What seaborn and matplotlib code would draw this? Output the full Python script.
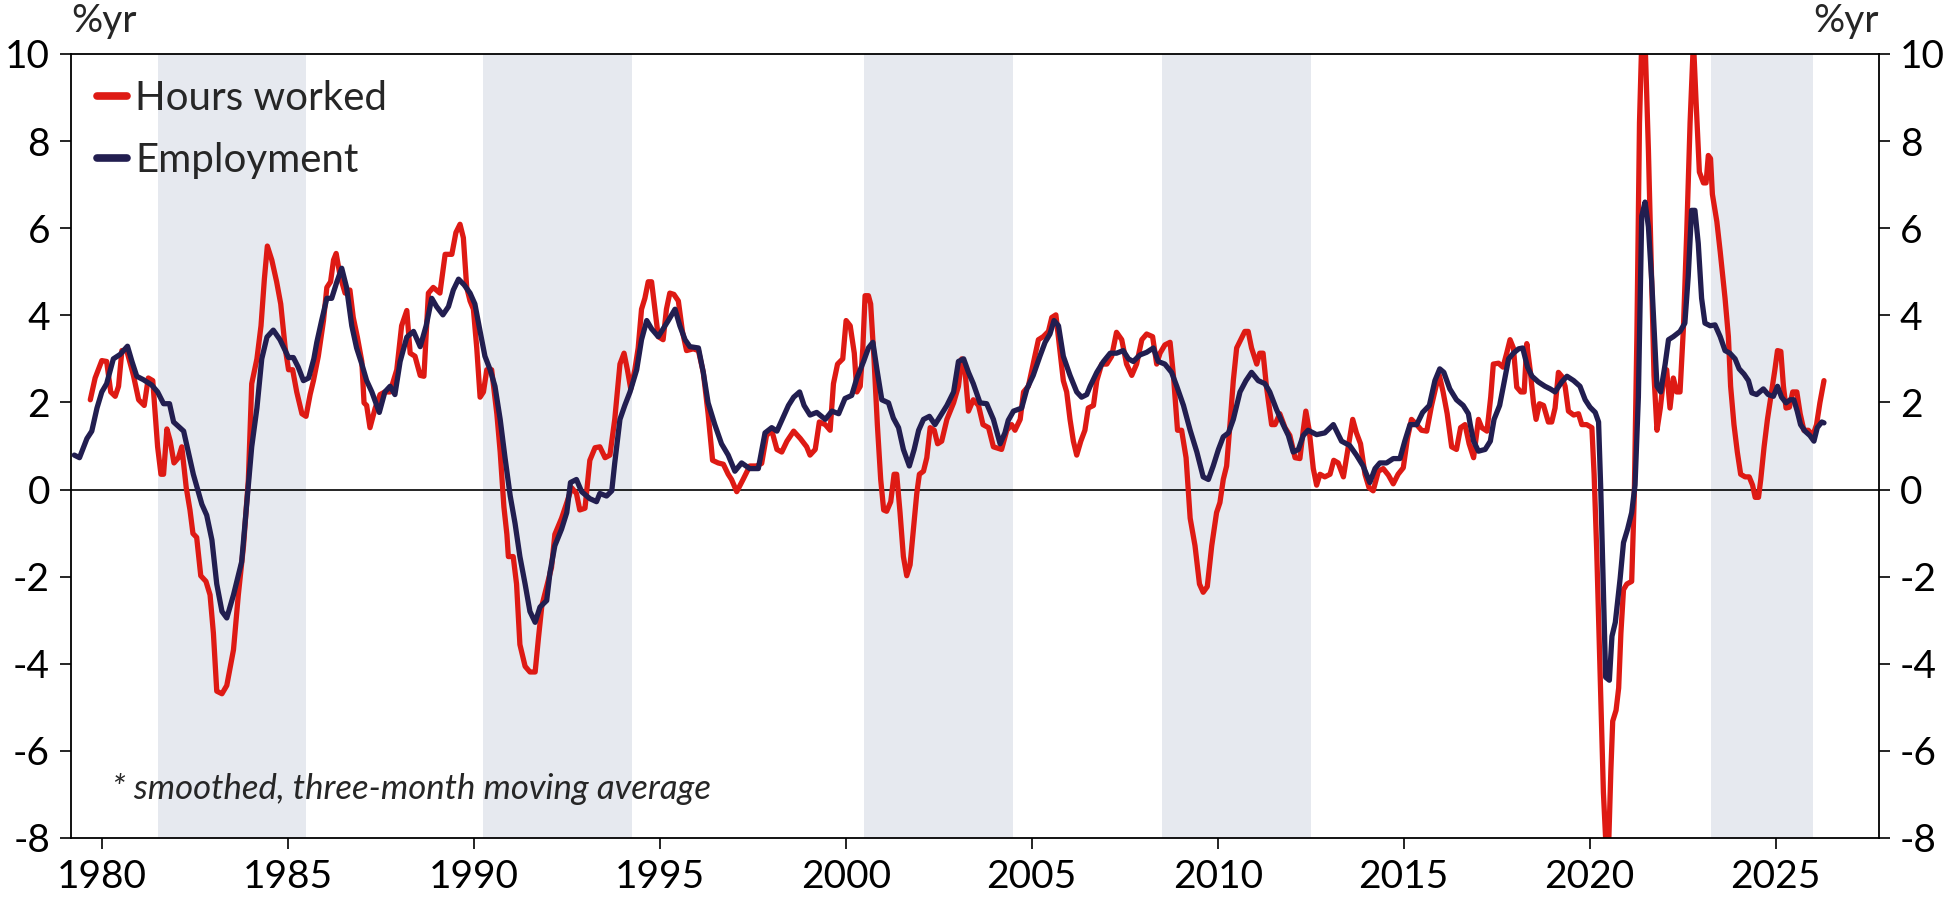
import numpy as np
import pandas as pd
import matplotlib
matplotlib.use("Agg")
import matplotlib.pyplot as plt
import seaborn as sns

# ── Données (années décimales, %/an) ─────────────────────────────────────────
hours_year = [
    1979.69, 1979.82, 1980.00, 1980.13, 1980.24, 1980.36, 1980.45, 1980.54, 1980.67, 1980.85,
    1980.99, 1981.14, 1981.25, 1981.37, 1981.50, 1981.59, 1981.66, 1981.75, 1981.84, 1981.94,
    1982.06, 1982.15, 1982.27, 1982.37, 1982.45, 1982.55, 1982.66, 1982.80, 1982.91, 1983.00,
    1983.09, 1983.23, 1983.36, 1983.54, 1983.67, 1983.81, 1983.94, 1984.03, 1984.17, 1984.28,
    1984.37, 1984.45, 1984.57, 1984.70, 1984.81, 1984.93, 1985.02, 1985.13, 1985.24, 1985.38,
    1985.49, 1985.60, 1985.69, 1985.82, 1985.96, 1986.05, 1986.15, 1986.23, 1986.30, 1986.41,
    1986.54, 1986.67, 1986.76, 1986.87, 1986.99, 1987.05, 1987.12, 1987.21, 1987.35, 1987.48,
    1987.61, 1987.75, 1987.93, 1988.06, 1988.20, 1988.29, 1988.42, 1988.56, 1988.66, 1988.78,
    1988.91, 1989.09, 1989.23, 1989.41, 1989.52, 1989.63, 1989.72, 1989.81, 1989.90, 1989.99,
    1990.08, 1990.17, 1990.26, 1990.35, 1990.48, 1990.62, 1990.71, 1990.81, 1990.89, 1990.93,
    1991.06, 1991.15, 1991.24, 1991.38, 1991.51, 1991.65, 1991.74, 1991.83, 1991.96, 1992.09,
    1992.18, 1992.36, 1992.51, 1992.63, 1992.76, 1992.85, 1992.99, 1993.12, 1993.26, 1993.39,
    1993.53, 1993.66, 1993.79, 1993.93, 1994.04, 1994.13, 1994.22, 1994.33, 1994.42, 1994.51,
    1994.60, 1994.69, 1994.78, 1994.87, 1994.96, 1995.09, 1995.18, 1995.27, 1995.38, 1995.50,
    1995.61, 1995.72, 1995.90, 1996.04, 1996.17, 1996.30, 1996.42, 1996.57, 1996.71, 1996.84,
    1996.93, 1997.07, 1997.24, 1997.42, 1997.60, 1997.74, 1997.87, 1998.01, 1998.15, 1998.28,
    1998.42, 1998.60, 1998.78, 1998.95, 1999.04, 1999.18, 1999.29, 1999.45, 1999.58, 1999.67,
    1999.78, 1999.92, 2000.01, 2000.12, 2000.23, 2000.30, 2000.39, 2000.46, 2000.52, 2000.61,
    2000.67, 2000.76, 2000.85, 2000.94, 2001.02, 2001.10, 2001.21, 2001.30, 2001.37, 2001.46,
    2001.55, 2001.64, 2001.73, 2001.82, 2001.91, 2001.98, 2002.09, 2002.18, 2002.27, 2002.38,
    2002.47, 2002.58, 2002.72, 2002.90, 2003.03, 2003.12, 2003.21, 2003.30, 2003.43, 2003.57,
    2003.69, 2003.84, 2003.97, 2004.19, 2004.33, 2004.46, 2004.55, 2004.69, 2004.78, 2004.91,
    2005.04, 2005.18, 2005.31, 2005.45, 2005.54, 2005.65, 2005.76, 2005.85, 2005.94, 2006.03,
    2006.12, 2006.21, 2006.32, 2006.43, 2006.52, 2006.66, 2006.75, 2006.88, 2007.02, 2007.15,
    2007.28, 2007.42, 2007.55, 2007.69, 2007.82, 2007.96, 2008.09, 2008.25, 2008.36, 2008.45,
    2008.58, 2008.72, 2008.81, 2008.92, 2009.03, 2009.15, 2009.26, 2009.39, 2009.51, 2009.61,
    2009.72, 2009.84, 2009.97, 2010.06, 2010.15, 2010.24, 2010.33, 2010.42, 2010.51, 2010.62,
    2010.73, 2010.82, 2010.91, 2011.05, 2011.13, 2011.22, 2011.31, 2011.45, 2011.54, 2011.67,
    2011.81, 2011.94, 2012.08, 2012.21, 2012.30, 2012.37, 2012.46, 2012.57, 2012.66, 2012.75,
    2012.88, 2013.02, 2013.12, 2013.24, 2013.38, 2013.51, 2013.63, 2013.73, 2013.84, 2013.96,
    2014.07, 2014.18, 2014.32, 2014.45, 2014.59, 2014.72, 2014.85, 2014.99, 2015.10, 2015.21,
    2015.35, 2015.48, 2015.62, 2015.75, 2015.87, 2015.96, 2016.06, 2016.17, 2016.29, 2016.42,
    2016.53, 2016.65, 2016.76, 2016.88, 2017.01, 2017.10, 2017.24, 2017.34, 2017.41, 2017.55,
    2017.67, 2017.77, 2017.86, 2017.95, 2018.04, 2018.15, 2018.24, 2018.31, 2018.40, 2018.49,
    2018.56, 2018.65, 2018.76, 2018.89, 2018.98, 2019.07, 2019.16, 2019.25, 2019.34, 2019.43,
    2019.57, 2019.70, 2019.79, 2019.92, 2020.06, 2020.12, 2020.19, 2020.28, 2020.37, 2020.44,
    2020.51, 2020.57, 2020.62, 2020.71, 2020.78, 2020.84, 2020.91, 2021.00, 2021.13, 2021.20,
    2021.27, 2021.34, 2021.40, 2021.49, 2021.58, 2021.67, 2021.73, 2021.81, 2021.90, 2021.99,
    2022.07, 2022.16, 2022.25, 2022.34, 2022.43, 2022.52, 2022.61, 2022.70, 2022.79, 2022.86,
    2022.95, 2023.06, 2023.13, 2023.19, 2023.25, 2023.30, 2023.42, 2023.51, 2023.64, 2023.73,
    2023.79, 2023.88, 2023.97, 2024.06, 2024.18, 2024.29, 2024.38, 2024.45, 2024.54, 2024.60,
    2024.69, 2024.78, 2024.89, 2024.98, 2025.05, 2025.14, 2025.21, 2025.28, 2025.37, 2025.46,
    2025.57, 2025.66, 2025.76, 2025.88, 2026.00, 2026.10, 2026.19, 2026.30,
]
hours_val = [
    2.06, 2.56, 2.96, 2.94, 2.24, 2.14, 2.37, 3.19, 3.19, 2.62,
    2.06, 1.93, 2.56, 2.50, 0.98, 0.35, 0.35, 1.39, 1.11, 0.61,
    0.73, 0.98, 0.04, -0.47, -1.01, -1.10, -1.98, -2.11, -2.42, -3.30,
    -4.63, -4.69, -4.50, -3.68, -2.42, -1.29, 0.23, 2.43, 3.00, 3.76,
    4.83, 5.59, 5.27, 4.77, 4.26, 3.25, 2.75, 2.75, 2.24, 1.74,
    1.68, 2.18, 2.50, 3.06, 3.88, 4.64, 4.77, 5.27, 5.42, 4.89,
    4.51, 4.58, 3.95, 3.50, 2.94, 1.99, 1.93, 1.42, 1.87, 2.18,
    2.24, 2.24, 2.75, 3.76, 4.11, 3.13, 3.06, 2.62, 2.60, 4.51,
    4.64, 4.51, 5.40, 5.40, 5.90, 6.09, 5.78, 4.64, 4.33, 4.14,
    3.25, 2.12, 2.24, 2.75, 2.75, 1.74, 0.86, -0.40, -1.03, -1.54,
    -1.54, -2.17, -3.56, -4.06, -4.19, -4.19, -3.40, -2.67, -2.23, -1.79,
    -1.03, -0.66, -0.28, 0.04, -0.09, -0.47, -0.43, 0.67, 0.96, 0.98,
    0.73, 0.79, 1.61, 2.88, 3.13, 2.75, 2.31, 2.75, 3.25, 4.14,
    4.39, 4.77, 4.77, 4.14, 3.51, 3.44, 4.14, 4.51, 4.48, 4.33,
    3.63, 3.19, 3.23, 3.19, 2.69, 1.74, 0.67, 0.61, 0.58, 0.35,
    0.23, -0.05, 0.23, 0.54, 0.54, 0.60, 1.24, 1.36, 0.92, 0.86,
    1.11, 1.34, 1.17, 0.98, 0.79, 0.92, 1.55, 1.49, 1.36, 2.43,
    2.88, 3.00, 3.88, 3.76, 3.13, 2.24, 2.37, 3.25, 4.45, 4.45,
    4.26, 3.00, 1.49, 0.23, -0.47, -0.50, -0.28, 0.35, 0.35, -0.53,
    -1.54, -1.98, -1.73, -0.91, -0.09, 0.35, 0.42, 0.73, 1.42, 1.36,
    1.05, 1.11, 1.61, 1.99, 2.37, 3.00, 2.69, 1.80, 2.06, 1.93,
    1.49, 1.42, 0.98, 0.92, 1.36, 1.49, 1.36, 1.61, 2.24, 2.37,
    2.88, 3.44, 3.51, 3.63, 3.95, 4.01, 3.19, 2.50, 2.24, 1.61,
    1.11, 0.79, 1.11, 1.36, 1.87, 1.93, 2.50, 2.88, 2.88, 3.06,
    3.61, 3.44, 2.88, 2.62, 2.88, 3.44, 3.57, 3.51, 2.88, 3.13,
    3.32, 3.38, 2.62, 1.36, 1.36, 0.73, -0.66, -1.29, -2.17, -2.36,
    -2.23, -1.29, -0.53, -0.30, 0.23, 0.54, 1.49, 2.50, 3.25, 3.44,
    3.63, 3.63, 3.25, 2.88, 3.13, 3.13, 2.37, 1.49, 1.49, 1.74,
    1.42, 1.24, 0.73, 0.71, 1.36, 1.80, 1.36, 0.48, 0.10, 0.35,
    0.29, 0.35, 0.67, 0.61, 0.29, 0.98, 1.61, 1.30, 1.05, 0.35,
    0.04, -0.03, 0.42, 0.48, 0.33, 0.13, 0.35, 0.50, 1.17, 1.61,
    1.49, 1.36, 1.34, 1.93, 2.37, 2.62, 2.24, 1.74, 0.98, 0.92,
    1.42, 1.49, 1.05, 0.73, 1.61, 1.42, 1.34, 2.12, 2.88, 2.90,
    2.81, 3.13, 3.44, 3.25, 2.35, 2.24, 2.24, 3.35, 2.75, 1.99,
    1.61, 1.97, 1.93, 1.55, 1.55, 1.87, 2.69, 2.60, 2.37, 1.80,
    1.71, 1.74, 1.49, 1.49, 1.42, 0.35, -1.41, -4.19, -6.96, -8.20,
    -8.20, -6.46, -5.32, -5.07, -4.56, -3.30, -2.30, -2.17, -2.11, -0.15,
    3.51, 8.42, 10.30, 10.30, 7.79, 4.64, 2.62, 1.36, 1.87, 2.56,
    2.75, 1.87, 2.56, 2.24, 2.24, 3.69, 5.90, 8.42, 10.30, 8.93,
    7.29, 7.04, 7.04, 7.67, 7.60, 6.78, 6.15, 5.46, 4.39, 3.51,
    2.37, 1.49, 0.86, 0.35, 0.29, 0.29, 0.10, -0.18, -0.18, 0.23,
    0.98, 1.61, 2.24, 2.75, 3.19, 3.17, 2.37, 1.87, 1.89, 2.24,
    2.24, 1.74, 1.36, 1.36, 1.24, 1.49, 1.99, 2.50,
]

emp_year = [
    1979.26, 1979.40, 1979.60, 1979.73, 1979.87, 1980.00, 1980.13, 1980.31, 1980.49, 1980.69,
    1980.81, 1980.94, 1981.12, 1981.34, 1981.50, 1981.66, 1981.82, 1981.93, 1982.20, 1982.46,
    1982.69, 1982.82, 1982.96, 1983.09, 1983.23, 1983.36, 1983.54, 1983.76, 1983.90, 1984.03,
    1984.17, 1984.30, 1984.44, 1984.61, 1984.79, 1985.02, 1985.15, 1985.28, 1985.42, 1985.56,
    1985.70, 1985.78, 1985.91, 1986.05, 1986.18, 1986.32, 1986.45, 1986.58, 1986.72, 1986.85,
    1986.99, 1987.12, 1987.26, 1987.46, 1987.61, 1987.75, 1987.88, 1988.02, 1988.20, 1988.38,
    1988.56, 1988.72, 1988.87, 1989.00, 1989.17, 1989.32, 1989.45, 1989.59, 1989.74, 1989.90,
    1990.03, 1990.17, 1990.30, 1990.44, 1990.57, 1990.71, 1990.84, 1990.98, 1991.11, 1991.24,
    1991.38, 1991.51, 1991.65, 1991.78, 1991.96, 1992.05, 1992.18, 1992.36, 1992.50, 1992.60,
    1992.76, 1992.90, 1993.12, 1993.30, 1993.39, 1993.57, 1993.71, 1993.79, 1993.93, 1994.06,
    1994.20, 1994.38, 1994.51, 1994.65, 1994.78, 1994.96, 1995.09, 1995.23, 1995.41, 1995.54,
    1995.68, 1995.81, 1996.04, 1996.17, 1996.30, 1996.48, 1996.66, 1996.84, 1997.02, 1997.20,
    1997.42, 1997.65, 1997.83, 1998.01, 1998.15, 1998.33, 1998.46, 1998.60, 1998.76, 1998.88,
    1999.04, 1999.22, 1999.45, 1999.63, 1999.81, 1999.98, 2000.16, 2000.30, 2000.48, 2000.61,
    2000.73, 2000.84, 2000.97, 2001.15, 2001.28, 2001.42, 2001.55, 2001.71, 2001.84, 2001.96,
    2002.09, 2002.25, 2002.40, 2002.58, 2002.72, 2002.90, 2003.03, 2003.17, 2003.30, 2003.43,
    2003.61, 2003.79, 2003.97, 2004.15, 2004.28, 2004.37, 2004.51, 2004.73, 2004.87, 2005.04,
    2005.22, 2005.36, 2005.49, 2005.60, 2005.72, 2005.85, 2006.03, 2006.21, 2006.34, 2006.48,
    2006.57, 2006.75, 2006.93, 2007.11, 2007.28, 2007.46, 2007.60, 2007.73, 2007.91, 2008.09,
    2008.27, 2008.40, 2008.58, 2008.76, 2008.90, 2009.08, 2009.26, 2009.44, 2009.61, 2009.75,
    2009.88, 2010.02, 2010.15, 2010.29, 2010.42, 2010.60, 2010.76, 2010.91, 2011.09, 2011.27,
    2011.40, 2011.58, 2011.76, 2011.90, 2012.03, 2012.17, 2012.30, 2012.43, 2012.66, 2012.88,
    2013.11, 2013.33, 2013.55, 2013.73, 2013.91, 2014.09, 2014.23, 2014.36, 2014.54, 2014.72,
    2014.90, 2015.03, 2015.17, 2015.35, 2015.51, 2015.69, 2015.84, 2015.97, 2016.08, 2016.24,
    2016.42, 2016.60, 2016.74, 2016.79, 2016.88, 2017.01, 2017.19, 2017.33, 2017.43, 2017.58,
    2017.68, 2017.82, 2017.95, 2018.09, 2018.20, 2018.33, 2018.45, 2018.62, 2018.80, 2018.94,
    2019.07, 2019.25, 2019.39, 2019.57, 2019.74, 2019.88, 2020.01, 2020.15, 2020.24, 2020.30,
    2020.37, 2020.43, 2020.53, 2020.60, 2020.69, 2020.82, 2020.91, 2021.02, 2021.13, 2021.22,
    2021.31, 2021.40, 2021.49, 2021.58, 2021.67, 2021.81, 2021.91, 2022.03, 2022.12, 2022.25,
    2022.43, 2022.56, 2022.65, 2022.74, 2022.83, 2022.92, 2023.01, 2023.10, 2023.24, 2023.37,
    2023.51, 2023.64, 2023.77, 2023.91, 2024.02, 2024.15, 2024.27, 2024.36, 2024.49, 2024.67,
    2024.80, 2024.94, 2025.05, 2025.16, 2025.28, 2025.39, 2025.49, 2025.58, 2025.67, 2025.79,
    2025.92, 2026.03, 2026.12, 2026.24, 2026.30,
]
emp_val = [
    0.79, 0.73, 1.17, 1.34, 1.87, 2.24, 2.43, 3.00, 3.10, 3.29,
    2.94, 2.60, 2.52, 2.40, 2.24, 1.97, 1.97, 1.55, 1.34, 0.35,
    -0.34, -0.59, -1.16, -2.17, -2.80, -2.95, -2.42, -1.66, -0.28, 0.98,
    1.87, 3.00, 3.50, 3.66, 3.44, 3.03, 3.03, 2.81, 2.50, 2.56,
    3.00, 3.38, 3.88, 4.39, 4.39, 4.77, 5.08, 4.64, 3.76, 3.25,
    2.88, 2.50, 2.24, 1.77, 2.24, 2.37, 2.18, 2.94, 3.50, 3.63,
    3.28, 3.76, 4.39, 4.20, 4.01, 4.20, 4.58, 4.83, 4.70, 4.51,
    4.26, 3.63, 3.06, 2.75, 2.37, 1.61, 0.73, -0.15, -0.78, -1.54,
    -2.17, -2.80, -3.05, -2.70, -2.55, -1.90, -1.29, -0.91, -0.53, 0.16,
    0.23, -0.05, -0.21, -0.28, -0.09, -0.15, -0.03, 0.61, 1.61, 1.93,
    2.24, 2.75, 3.44, 3.88, 3.69, 3.51, 3.69, 3.88, 4.14, 3.76,
    3.44, 3.28, 3.25, 2.69, 1.99, 1.49, 1.05, 0.79, 0.42, 0.61,
    0.48, 0.48, 1.30, 1.42, 1.34, 1.68, 1.93, 2.12, 2.24, 1.93,
    1.71, 1.77, 1.61, 1.80, 1.74, 2.09, 2.16, 2.56, 2.94, 3.25,
    3.38, 2.75, 2.06, 1.99, 1.64, 1.42, 0.92, 0.54, 0.92, 1.36,
    1.61, 1.68, 1.49, 1.74, 1.93, 2.24, 2.94, 3.00, 2.69, 2.43,
    1.99, 1.97, 1.61, 1.05, 1.30, 1.59, 1.80, 1.87, 2.31, 2.62,
    3.06, 3.38, 3.57, 3.88, 3.76, 3.06, 2.62, 2.24, 2.12, 2.18,
    2.37, 2.69, 2.94, 3.13, 3.13, 3.19, 3.00, 2.94, 3.09, 3.15,
    3.25, 2.94, 2.88, 2.69, 2.37, 1.93, 1.36, 0.86, 0.29, 0.23,
    0.54, 0.92, 1.21, 1.30, 1.61, 2.24, 2.50, 2.69, 2.50, 2.43,
    2.24, 1.84, 1.49, 1.24, 0.86, 0.92, 1.24, 1.36, 1.26, 1.30,
    1.49, 1.11, 1.01, 0.79, 0.54, 0.16, 0.48, 0.61, 0.61, 0.71,
    0.71, 1.11, 1.49, 1.49, 1.77, 1.93, 2.50, 2.77, 2.69, 2.31,
    2.06, 1.93, 1.74, 1.49, 1.11, 0.88, 0.92, 1.11, 1.61, 1.93,
    2.37, 3.00, 3.13, 3.23, 3.25, 2.81, 2.60, 2.47, 2.37, 2.31,
    2.24, 2.47, 2.60, 2.50, 2.37, 2.06, 1.89, 1.77, 1.55, -0.03,
    -2.30, -4.31, -4.38, -3.37, -3.05, -2.04, -1.22, -0.91, -0.53, 0.10,
    2.12, 6.28, 6.60, 6.03, 4.77, 2.37, 2.24, 2.88, 3.44, 3.51,
    3.63, 3.82, 4.89, 6.41, 6.41, 5.65, 4.39, 3.82, 3.76, 3.78,
    3.51, 3.19, 3.13, 3.00, 2.77, 2.65, 2.50, 2.22, 2.18, 2.31,
    2.18, 2.14, 2.37, 2.12, 1.99, 2.06, 2.06, 1.80, 1.49, 1.34,
    1.24, 1.11, 1.42, 1.55, 1.53,
]

# périodes grisées (années décimales)
shade_start = [1981.5, 1990.25, 2000.5, 2008.5, 2023.25]
shade_end = [1985.5, 1994.25, 2004.5, 2012.5, 2026.0]

y_ticks = [-8, -6, -4, -2, 0, 2, 4, 6, 8, 10]
x_ticks = [1980, 1985, 1990, 1995, 2000, 2005, 2010, 2015, 2020, 2025]

RED = "#DE1A14"
NAVY = "#221E50"
SHADE = "#E6E9EF"

sns.set_style("ticks")
plt.rcParams["font.family"] = ["Lato", "DejaVu Sans"]
plt.rcParams["axes.unicode_minus"] = False

fig = plt.figure(figsize=(19.49, 9), dpi=100)
ax = fig.add_axes([0.0364, 0.069, 0.9277, 0.871])

for s, e in zip(shade_start, shade_end):
    ax.axvspan(s, e, color=SHADE, lw=0, zorder=0)

ax.axhline(0, color="black", lw=1.2, zorder=1)

hours = pd.DataFrame({"year": hours_year, "val": hours_val})
emp = pd.DataFrame({"year": emp_year, "val": emp_val})

sns.lineplot(data=hours, x="year", y="val", ax=ax, color=RED, lw=3.8,
             label="Hours worked", estimator=None, sort=False, zorder=2)
sns.lineplot(data=emp, x="year", y="val", ax=ax, color=NAVY, lw=3.8,
             label="Employment", estimator=None, sort=False, zorder=3)

ax.set_xlim(1979.17, 2027.78)
ax.set_ylim(-8, 10)
ax.set_xticks(x_ticks)
ax.set_yticks(y_ticks)
ax.set_xlabel("")
ax.set_ylabel("")

for sp in ax.spines.values():
    sp.set_visible(True)
    sp.set_color("black")
    sp.set_linewidth(1.3)

ax.tick_params(axis="both", direction="out", length=8, width=1.2,
               labelsize=28, colors="black", pad=7)
ax.tick_params(axis="y", left=True, right=True, labelleft=True, labelright=True)

fig.text(0.0364, 0.977, "%yr", fontsize=28, ha="left", va="center")
fig.text(0.9641, 0.977, "%yr", fontsize=28, ha="right", va="center")

ax.text(0.0227, 0.0625, "* smoothed, three-month moving average",
        transform=ax.transAxes, fontsize=25, style="italic",
        ha="left", va="center")

leg = ax.legend(loc="upper left", bbox_to_anchor=(0.0, 1.0), frameon=False,
                fontsize=29, handlelength=0.75, handletextpad=0.2,
                labelspacing=0.62, borderaxespad=0.25)
for line in leg.get_lines():
    line.set_linewidth(5.5)

fig.savefig("out.png", dpi=100)
plt.close(fig)
